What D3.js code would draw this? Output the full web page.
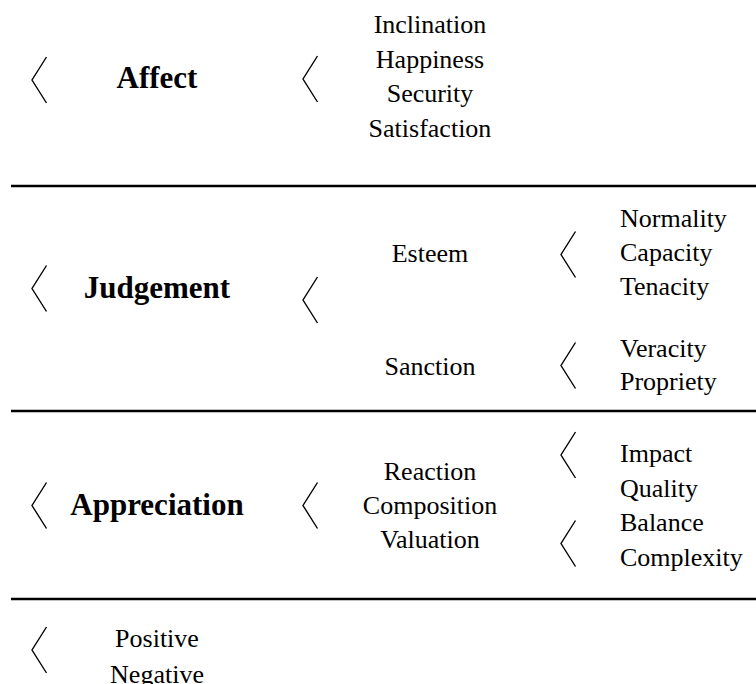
<!DOCTYPE html>
<html><head><meta charset="utf-8">
<script src="https://cdn.jsdelivr.net/npm/d3@7/dist/d3.min.js"></script>
<style>html,body{margin:0;padding:0;background:#fff;}</style>
</head><body>
<svg id="c" width="756" height="684"></svg>
<script>
// ---- data (labels only) ----
const systems = ["Affect", "Judgement", "Appreciation"];
const affectTypes = ["Inclination", "Happiness", "Security", "Satisfaction"];
const judgementTypes = ["Esteem", "Sanction"];
const esteemTypes = ["Normality", "Capacity", "Tenacity"];
const sanctionTypes = ["Veracity", "Propriety"];
const appreciationTypes = ["Reaction", "Composition", "Valuation"];
const reactionTypes = ["Impact", "Quality"];
const compositionTypes = ["Balance", "Complexity"];
const polarity = ["Positive", "Negative"];

// ---- layout ----
const svg = d3.select("#c");
const W = 756;
const FONT = "'Liberation Serif','Times New Roman',serif";
const regSize = 26, boldSize = 31, lineH = 34.5;

const x = d3.scaleOrdinal()
  .domain(["b1", "c1", "b2", "c2", "b3", "c3"])
  .range([32, 157, 303, 430, 561, 620]);

function bracket(xl, yc) {
  const h = 46, w = 14.5;
  svg.append("path")
    .attr("d", d3.line()([[xl + w, yc - h / 2], [xl, yc], [xl + w, yc + h / 2]]))
    .attr("fill", "none").attr("stroke", "#000").attr("stroke-width", 1.4);
}
function list(items, xx, firstBaseline, anchor, spacing) {
  const sp = spacing || lineH;
  svg.append("g").selectAll("text").data(items).join("text")
    .attr("x", xx)
    .attr("y", (d, i) => firstBaseline + i * sp)
    .attr("text-anchor", anchor)
    .attr("font-family", FONT).attr("font-size", regSize)
    .text(d => d);
}
function bold(t, xx, y) {
  svg.append("text").attr("x", xx).attr("y", y).attr("text-anchor", "middle")
    .attr("font-family", FONT).attr("font-size", boldSize).attr("font-weight", "bold")
    .text(t);
}

// separators
[186, 411, 599].forEach(y => {
  svg.append("line").attr("x1", 11).attr("x2", W).attr("y1", y).attr("y2", y)
    .attr("stroke", "#000").attr("stroke-width", 2.6);
});

// Affect
bracket(x("b1"), 80);
bold(systems[0], x("c1"), 88);
bracket(x("b2"), 79);
list(affectTypes, x("c2"), 33, "middle", 34.7);

// Judgement
bracket(x("b1"), 288.5);
bold(systems[1], x("c1"), 298);
bracket(x("b2"), 300);
list(judgementTypes, x("c2"), 262, "middle", 113);
bracket(x("b3"), 254.5);
list(esteemTypes, x("c3"), 227, "start", 34);
bracket(x("b3"), 365.5);
list(sanctionTypes, x("c3"), 357, "start", 33);

// Appreciation
bracket(x("b1"), 505.5);
bold(systems[2], x("c1"), 515);
bracket(x("b2"), 505.5);
list(appreciationTypes, x("c2"), 480, "middle", 34);
bracket(x("b3"), 455);
list(reactionTypes, x("c3"), 462, "start", 34.5);
bracket(x("b3"), 543.5);
list(compositionTypes, x("c3"), 531, "start", 34.5);

// Polarity
bracket(x("b1"), 650);
list(polarity, x("c1"), 647, "middle", 36);
</script>
</body></html>
